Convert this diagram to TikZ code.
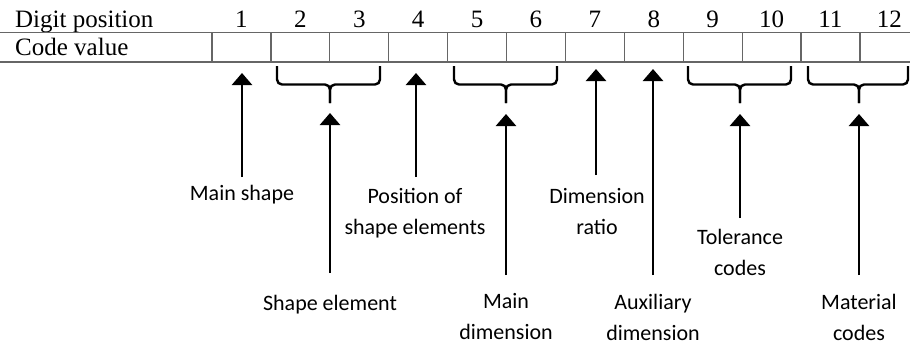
\documentclass[tikz,border=0pt]{standalone}
\usepackage{fontspec}
\setmainfont{Liberation Serif}
\newfontfamily\lblfont{Carlito}
\usetikzlibrary{arrows.meta}
\begin{document}
\begin{tikzpicture}[x=1pt,y=-1pt,
  tbl/.style={draw=black!60, line width=1.2pt},
  hdr/.style={font=\fontsize{25}{30}\selectfont, inner sep=0pt},
  lbl/.style={font=\lblfont\fontsize{22}{31}\selectfont, align=center, inner sep=0pt},
  arr/.style={line width=2.6pt, -{Triangle[width=20pt,length=12pt]}},
  brc/.style={line width=2.4pt, rounded corners=5pt},
]
\useasboundingbox (0,0) rectangle (910,346);
% table
\node[hdr, anchor=base west] (dp) at (15,27) {Digit position};
\node[hdr, anchor=base west] (cv) at (15,55) {Code value};
\foreach \i in {1,...,12}
  \node[hdr, anchor=base] (d\i) at ({212+58.9*(\i-0.5)},27) {\i};
\draw[tbl] (0,32.5) -- (910,32.5);
\draw[tbl] (0,62) -- (910,62);
\foreach \k in {0,...,11}
  \draw[tbl] ({212+58.9*\k},32.5) -- ({212+58.9*\k},62);
% braces
\foreach \a/\m/\b/\n in {277/330/380/23, 454/506/557/56, 688/740/791/910, 808/859/908/1112}{
  \draw[brc] (\a,66) -- (\a,84.5) -- (\m,84.5) -- (\m,103);
  \draw[brc] (\b,66) -- (\b,84.5) -- (\m,84.5) -- (\m,103);
  \coordinate (s\n) at (\m,103);
}
% arrow coordinates
\coordinate (t1) at (242,73);   \coordinate (b1) at (242,177);
\coordinate (t23) at (330,113); \coordinate (b23) at (330,273);
\coordinate (t4) at (416,73);   \coordinate (b4) at (416,177);
\coordinate (t56) at (506,114); \coordinate (b56) at (506,275);
\coordinate (t7) at (596,69);   \coordinate (b7) at (596,175);
\coordinate (t8) at (653,69);   \coordinate (b8) at (653,275);
\coordinate (t910) at (740,114);\coordinate (b910) at (740,218);
\coordinate (t1112) at (859,114);\coordinate (b1112) at (859,275);
\foreach \n in {1,23,4,56,7,8,910,1112}
  \draw[arr] (b\n) -- (t\n);
% labels
\node[lbl] (l1) at (242,195) {Main shape};
\node[lbl] (l23) at (330,305) {Shape element};
\node[lbl] (l4) at (415,213) {Position of\\shape elements};
\node[lbl] (l56) at (506,317) {Main\\dimension};
\node[lbl] (l7) at (597,212) {Dimension\\ratio};
\node[lbl] (l8) at (653,317) {Auxiliary\\dimension};
\node[lbl] (l910) at (740,252) {Tolerance\\codes};
\node[lbl] (l1112) at (859,317) {Material\\codes};
\end{tikzpicture}
\end{document}
